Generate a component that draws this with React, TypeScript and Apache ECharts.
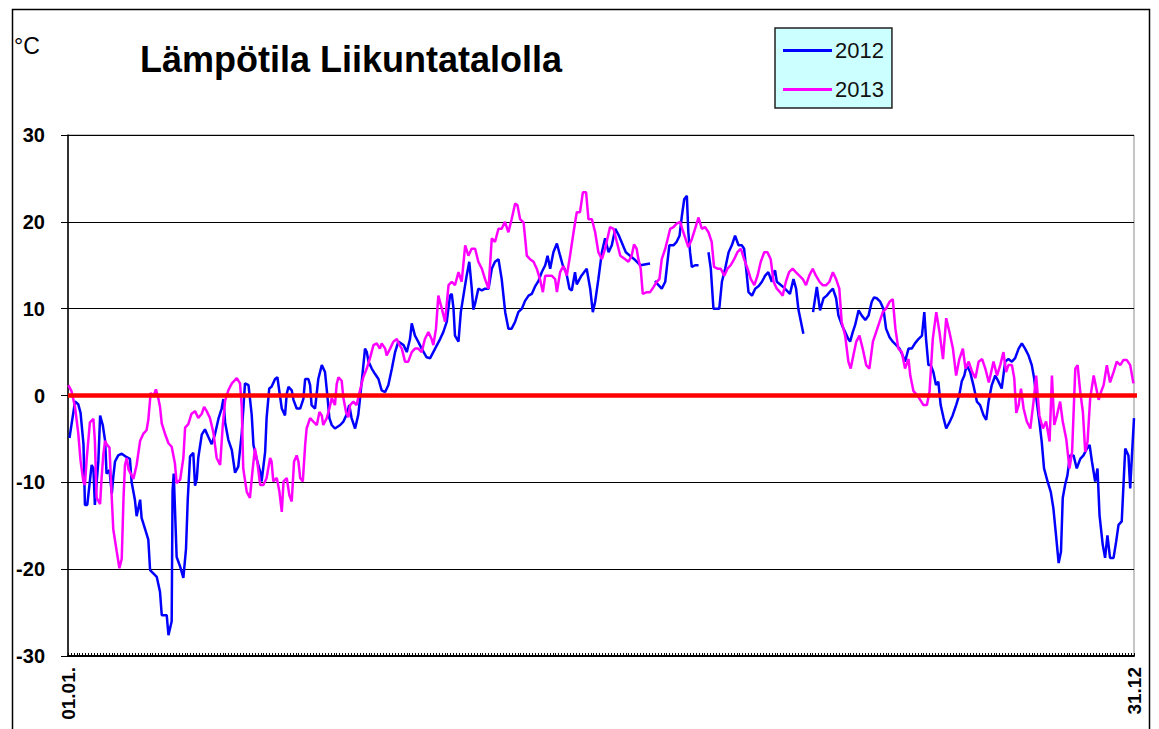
import React, { useEffect, useRef } from "react";
import * as echarts from "echarts";

// ---- data (day index from 01.01. = 0) ----
const days2012 = [
  0.5, 2.4, 3.5, 4.3, 5.3, 5.8, 6.6, 8.1, 8.7, 9.2, 10.4, 11.0, 11.9, 12.7, 13.2, 14.2, 15.0, 15.5, 16.1, 17.2,
  18.4, 20.1, 21.2, 21.8, 22.9, 23.5, 24.7, 25.2, 26.4, 27.5, 28.1, 30.4, 31.5, 32.1, 33.8, 34.4, 35.5, 35.8, 36.2, 36.6,
  37.2, 38.4, 39.5, 40.4, 41.0, 41.8, 42.9, 43.5, 44.1, 44.6, 45.8, 46.9, 48.1, 49.2, 50.3, 51.5, 52.6, 53.2, 53.8, 54.9,
  56.1, 57.2, 58.3, 59.5, 60.6, 61.8, 62.9, 63.5, 64.6, 65.8, 66.3, 67.5, 68.0, 68.9, 69.7, 70.9, 71.7, 72.4, 73.2, 74.3,
  74.9, 75.5, 76.6, 77.2, 78.3, 79.5, 80.6, 81.2, 82.3, 82.9, 83.4, 84.6, 85.7, 86.9, 88.0, 88.8, 89.5, 90.3, 91.4, 93.2,
  94.3, 95.4, 96.3, 97.1, 98.3, 99.4, 100.0, 100.9, 101.7, 102.3, 102.9, 104.0, 105.1, 106.3, 107.4, 108.6, 109.7, 110.9, 112.0, 113.1,
  114.9, 116.0, 117.1, 117.7, 118.8, 119.9, 121.1, 122.8, 124.0, 125.7, 127.4, 128.5, 129.7, 130.8, 131.4, 132.0, 132.5, 133.7, 134.5, 135.4,
  136.5, 137.4, 138.2, 138.8, 139.4, 140.5, 141.7, 142.8, 144.0, 145.1, 146.2, 147.4, 148.5, 149.7, 150.8, 151.9, 153.1, 154.2, 155.4, 156.5,
  157.7, 158.8, 160.0, 161.1, 162.2, 163.4, 164.2, 165.1, 166.2, 167.4, 168.5, 169.4, 170.6, 171.7, 172.5, 173.6, 174.2, 175.8, 177.6, 178.8,
  179.7, 180.5, 181.6, 182.8, 183.9, 185.1, 186.2, 187.4, 188.5, 191.0, 194.2, 196.0, 199.3, 200.2, 201.0, 202.2, 203.3, 204.5, 205.0, 205.9,
  207.3, 208.4, 209.4, 210.2, 211.0, 211.9, 212.4, 213.0, 213.6, 214.7, 215.9, 217.0, 219.3, 220.1, 221.0, 222.1, 223.0, 223.9, 225.0, 226.2,
  227.3, 228.4, 229.6, 230.7, 231.5, 232.2, 233.0, 234.2, 235.3, 236.5, 237.6, 238.7, 239.8, 241.0, 241.6, 242.1, 242.7, 244.9, 247.2, 248.4,
  249.3, 250.1, 251.8, 253.0, 255.1, 256.4, 257.5, 258.7, 259.8, 261.0, 261.9, 263.0, 263.8, 265.0, 266.1, 267.2, 267.8, 268.7, 269.5, 270.7,
  271.8, 273.0, 274.1, 275.2, 276.0, 276.9, 278.1, 279.2, 280.1, 281.3, 282.4, 283.6, 284.7, 285.8, 286.6, 287.8, 288.9, 290.0, 291.2, 292.4,
  293.2, 293.8, 294.6, 295.4, 296.3, 297.2, 298.0, 298.8, 299.8, 300.7, 301.8, 302.9, 304.1, 305.2, 306.0, 306.9, 307.7, 308.9, 310.0, 311.2,
  312.3, 313.5, 314.4, 315.2, 316.3, 317.5, 318.6, 319.7, 320.9, 322.0, 323.2, 324.3, 325.5, 326.6, 327.7, 328.9, 330.0, 330.8, 331.7, 332.6,
  333.4, 334.2, 335.4, 336.5, 337.4, 338.3, 339.2, 340.0, 340.6, 341.4, 342.2, 343.1, 344.3, 345.4, 346.6, 347.7, 348.9, 349.8, 350.6, 351.7,
  352.5, 353.2, 354.3, 355.1, 355.9, 356.8, 358.0, 358.9, 359.7, 360.8, 362.0, 363.1, 363.7, 364.3, 365.0,
];
const temps2012 = [
  -4.9, -0.7, -1.0, -2.0, -5.6, -12.6, -12.6, -8.0, -8.4, -12.6, -7.5, -2.3, -3.4, -5.2, -9.0, -8.6, -11.3, -9.4, -7.6, -6.9,
  -6.7, -7.1, -7.3, -10.0, -12.0, -13.9, -12.0, -14.1, -15.4, -16.6, -20.1, -20.9, -22.6, -25.3, -25.3, -27.6, -26.0, -11.0, -9.0, -12.8,
  -18.6, -19.7, -21.0, -17.7, -12.0, -7.0, -6.6, -10.4, -9.6, -7.2, -4.5, -3.9, -4.8, -5.6, -4.5, -2.7, -1.5, -0.4, -3.1, -5.1,
  -6.3, -8.9, -8.2, -4.3, 1.4, 1.2, -2.2, -5.7, -7.3, -8.8, -9.9, -6.5, -2.6, 0.8, 1.0, 1.9, 2.1, 0.4, -1.5, -2.3,
  0.2, 1.0, 0.6, -0.5, -1.5, -1.5, -0.4, 1.9, 1.9, 1.2, -1.1, -1.5, 1.9, 3.5, 2.7, 0.0, -2.6, -3.4, -3.8, -3.4,
  -3.0, -2.2, -1.1, -2.6, -3.8, -2.2, -0.3, 2.7, 5.4, 5.0, 3.9, 3.1, 2.5, 1.9, 0.6, 0.4, 1.2, 3.1, 5.0, 6.2,
  5.8, 5.0, 6.5, 8.3, 6.9, 6.2, 5.4, 4.4, 4.3, 5.4, 6.5, 7.3, 8.5, 11.5, 11.7, 10.0, 6.9, 6.2, 9.6, 11.5,
  13.8, 15.4, 12.5, 9.9, 10.6, 12.3, 12.1, 12.3, 12.3, 14.6, 15.4, 15.7, 13.4, 9.6, 7.7, 7.7, 8.5, 9.6, 10.0, 10.9,
  11.5, 11.7, 12.6, 13.2, 14.2, 15.0, 16.1, 14.6, 16.5, 17.5, 16.1, 15.0, 14.2, 12.3, 12.1, 14.2, 12.8, 13.8, 14.6, 12.3,
  9.6, 10.8, 13.4, 16.5, 18.1, 16.5, 17.3, 19.2, 18.5, 16.5, 15.6, 15.0, 15.2, null, 13.2, 12.7, 12.3, 13.1, 14.6, 17.3,
  17.3, 17.7, 18.4, 20.7, 22.6, 23.0, 18.8, 16.5, 14.8, 15.0, 15.0, null, 16.5, 14.6, 10.0, 10.0, 10.0, 13.1, 14.6, 16.5,
  17.3, 18.4, 17.3, 17.3, 16.9, 14.6, 11.9, 11.5, 12.3, 12.6, 13.1, 13.8, 14.2, 13.1, 14.2, 14.4, 13.1, 12.5, 11.7, 13.4,
  12.3, 9.9, 7.1, null, 9.6, 12.5, 9.8, 11.2, 11.5, 12.0, 12.3, 11.2, 9.2, 8.1, 7.3, 6.5, 6.2, 7.3, 8.1, 9.8,
  9.2, 8.7, 9.2, 10.8, 11.3, 11.2, 10.8, 10.0, 7.7, 6.7, 6.2, 5.8, 5.4, 4.6, 3.9, 5.4, 5.4, 6.0, 6.5, 6.9,
  9.6, 6.5, 3.5, 3.5, 2.7, 1.2, 1.6, -1.1, -2.6, -3.8, -3.1, -2.3, -1.1, 0.1, 1.6, 2.3, 3.5, 2.7, 1.2, -0.7,
  -1.1, -2.3, -2.8, -0.7, 1.2, 2.3, 1.6, 0.8, 3.9, 4.2, 3.9, 4.3, 5.4, 6.0, 5.4, 4.6, 3.5, 2.0, -0.7, -3.0,
  -5.3, -8.4, -9.9, -11.1, -13.0, -16.1, -19.3, -18.0, -11.8, -10.3, -9.2, -6.9, -6.9, -8.4, -7.3, -6.9, -6.1, -5.7, -7.6, -9.9,
  -8.4, -13.8, -17.2, -18.7, -16.1, -18.7, -18.7, -16.8, -14.9, -14.5, -6.1, -6.9, -10.7, -6.9, -2.6,
];

const days2013 = [
  0.1, 1.2, 2.4, 3.5, 4.3, 5.3, 5.8, 6.4, 7.5, 8.7, 9.2, 9.8, 11.0, 11.5, 12.1, 12.7, 13.2, 14.2, 15.0, 15.5,
  16.7, 17.6, 18.4, 19.0, 19.5, 20.1, 20.7, 21.8, 22.4, 23.5, 24.7, 25.8, 26.9, 27.5, 28.3, 29.2, 30.1, 30.9, 31.5, 32.1,
  33.2, 34.4, 35.5, 36.6, 37.2, 38.4, 39.5, 40.1, 41.2, 42.3, 43.5, 44.6, 45.8, 46.6, 47.5, 48.6, 49.8, 50.9, 52.1, 53.0,
  53.8, 54.9, 56.1, 57.8, 58.9, 59.5, 60.0, 61.2, 62.3, 63.2, 64.0, 64.8, 65.8, 66.9, 68.0, 69.2, 69.7, 70.3, 71.5, 72.4,
  73.2, 73.8, 74.9, 75.8, 76.6, 77.4, 78.3, 78.9, 79.5, 80.4, 81.2, 81.7, 82.9, 84.0, 85.2, 86.1, 86.9, 87.4, 88.6, 89.5,
  90.3, 91.4, 92.0, 92.6, 93.7, 94.3, 95.2, 96.0, 96.6, 97.7, 98.8, 100.0, 101.1, 102.3, 103.4, 104.6, 105.7, 106.8, 107.4, 108.6,
  109.1, 110.3, 111.4, 112.6, 113.5, 114.3, 115.4, 116.5, 117.7, 118.8, 119.9, 121.1, 122.2, 123.4, 124.5, 125.1, 126.0, 126.8, 128.0, 129.1,
  130.3, 131.4, 132.5, 133.7, 134.8, 136.0, 137.1, 138.2, 139.4, 140.5, 141.7, 142.8, 144.0, 145.1, 146.2, 147.4, 148.5, 149.6, 150.8, 151.9,
  153.1, 153.9, 154.8, 156.0, 157.1, 158.2, 159.4, 160.5, 161.6, 162.6, 163.4, 164.5, 165.6, 166.8, 167.4, 168.5, 169.6, 170.8, 171.9, 173.1,
  174.2, 175.3, 176.3, 177.4, 178.2, 179.4, 180.5, 181.6, 182.8, 183.9, 185.6, 186.8, 187.9, 189.1, 190.8, 191.9, 193.0, 193.8, 194.7, 195.3,
  196.1, 196.8, 198.2, 199.3, 200.5, 201.6, 202.5, 203.3, 204.5, 205.6, 206.2, 207.3, 208.4, 209.6, 210.7, 211.6, 212.4, 213.6, 214.7, 215.9,
  217.0, 218.1, 219.3, 220.4, 221.2, 222.4, 223.5, 224.7, 225.8, 226.9, 228.1, 229.2, 230.4, 231.5, 232.7, 233.8, 235.0, 236.1, 237.2, 238.4,
  239.5, 240.6, 241.6, 242.7, 243.8, 244.7, 245.8, 246.9, 248.1, 249.2, 250.4, 251.6, 252.7, 253.8, 255.0, 256.1, 257.3, 258.4, 259.6, 260.7,
  261.9, 263.0, 264.1, 264.9, 266.1, 267.2, 268.0, 268.9, 269.9, 271.0, 272.1, 273.3, 274.4, 275.6, 276.7, 277.9, 279.0, 280.1, 281.3, 282.4,
  283.3, 284.3, 285.5, 286.6, 287.8, 288.4, 289.5, 290.6, 291.8, 292.9, 294.1, 295.0, 296.1, 297.3, 298.4, 299.6, 300.7, 301.8, 303.0, 304.1,
  305.2, 306.4, 307.3, 308.4, 309.6, 310.7, 311.8, 313.0, 314.1, 315.3, 316.9, 318.1, 319.2, 320.3, 321.2, 322.0, 323.2, 324.0, 324.7, 325.5,
  326.3, 327.2, 328.3, 329.5, 330.6, 331.5, 332.6, 333.8, 334.9, 336.1, 336.9, 337.7, 338.6, 339.7, 340.6, 341.8, 342.9, 343.8, 344.9, 345.7,
  346.6, 347.5, 348.3, 349.1, 350.0, 351.2, 352.1, 352.9, 353.7, 354.6, 355.7, 356.8, 358.0, 359.1, 360.3, 361.4, 362.5, 363.7, 364.8,
];
const temps2013 = [
  1.2, 0.5, -1.3, -4.3, -7.5, -10.0, -10.3, -7.3, -3.1, -2.7, -5.2, -11.8, -12.5, -9.5, -6.8, -5.2, -5.6, -6.0, -11.9, -15.4,
  -18.0, -19.9, -18.8, -11.9, -8.0, -7.2, -8.5, -9.2, -9.6, -8.0, -5.2, -4.4, -4.0, -2.8, 0.3, -0.1, 0.7, -0.3, -1.3, -3.2,
  -4.4, -5.5, -5.9, -7.8, -10.1, -9.7, -7.2, -3.7, -3.3, -2.1, -1.8, -2.6, -2.1, -1.3, -1.8, -2.6, -4.3, -7.2, -8.0, -3.4,
  -0.6, 0.6, 1.4, 2.0, 1.4, -1.3, -8.4, -11.1, -11.8, -8.6, -6.1, -7.6, -10.3, -10.3, -9.5, -7.2, -7.6, -9.9, -9.5, -11.1,
  -13.4, -9.9, -9.5, -11.5, -12.2, -7.6, -6.9, -7.6, -9.5, -9.9, -5.7, -3.8, -2.6, -3.0, -3.4, -1.9, -2.3, -3.4, -2.6, -1.5,
  -0.3, -1.1, 1.3, 2.1, 1.7, -0.3, -1.9, -2.5, -1.1, -0.7, -1.1, 0.6, 2.1, 3.1, 4.3, 5.8, 6.0, 5.4, 6.0, 5.4,
  4.6, 5.4, 6.2, 6.5, 5.8, 5.4, 3.9, 3.9, 5.0, 5.4, 5.4, 5.0, 6.5, 7.3, 6.5, 5.8, 7.7, 11.5, 10.0, 8.5,
  12.7, 13.1, 12.7, 14.2, 13.1, 17.3, 16.1, 16.9, 16.9, 15.4, 14.6, 13.4, 12.3, 18.1, 17.7, 19.2, 19.2, 20.0, 18.8, 20.3,
  22.1, 21.9, 20.3, 19.9, 16.1, 15.7, 15.4, 14.6, 13.4, 11.9, 13.8, 13.8, 13.8, 13.4, 11.9, 14.2, 14.9, 13.8, 16.1, 18.8,
  21.1, 21.1, 23.4, 23.4, 20.3, 20.3, 18.8, 16.5, 15.7, 16.9, 19.4, 19.2, 17.7, 16.1, 15.7, 15.4, 16.1, 17.4, 16.9, 15.7,
  14.6, 11.7, 11.9, 11.9, 12.5, 13.1, 13.4, 15.7, 16.9, 18.4, 19.2, 19.4, 19.8, 20.0, 18.8, 17.9, 17.1, 18.0, 19.2, 20.5,
  19.2, 19.4, 18.8, 17.7, 14.8, 14.6, 14.6, 13.8, 14.6, 15.0, 15.7, 16.5, 16.9, 15.7, 14.6, 13.4, 12.7, 13.8, 15.4, 16.5,
  16.5, 15.7, 13.1, 12.3, 11.9, 11.5, 13.1, 14.2, 14.6, 14.2, 13.8, 13.4, 12.7, 13.8, 14.6, 13.8, 13.1, 12.7, 12.7, 13.1,
  14.2, 13.4, 12.3, 8.5, 6.9, 3.9, 3.1, 4.6, 6.2, 6.9, 5.4, 3.5, 3.1, 6.2, 7.3, 8.5, 9.6, 10.0, 10.8, 11.1,
  7.7, 5.4, 5.0, 3.1, 4.2, 2.3, 0.5, 0.1, -0.5, -1.1, -1.1, 0.5, 6.5, 9.6, 7.3, 4.2, 8.9, 7.3, 5.4, 2.3,
  4.2, 5.4, 3.1, 3.9, 2.7, 2.0, 3.9, 4.2, 3.1, 1.5, 3.9, 2.3, 3.5, 5.0, 2.7, 3.5, 3.5, 2.0, -2.0, -1.1,
  0.8, -1.5, -3.0, -3.8, -0.7, 2.3, -2.3, -3.8, -3.0, -5.3, 2.3, -3.4, -2.3, -0.7, -3.0, -5.0, -8.4, -6.5, 3.1, 3.5,
  0.4, -1.9, -6.5, -5.3, -0.3, 2.3, 0.8, -0.5, 0.4, 1.2, 3.5, 1.5, 2.7, 3.9, 3.5, 4.1, 4.1, 3.5, 1.4,
];

const seriesNames = ["2012", "2013"];
const yTicks = [-30, -20, -10, 0, 10, 20, 30];
const xLabelFirst = "01.01.";
const xLabelLast = "31.12";

const zip = (d: number[], t: (number | null)[]) =>
  d.map((x, i) => [x, t[i] === null ? "-" : t[i]]);

export default function App() {
  const ref = useRef<HTMLDivElement>(null);
  useEffect(() => {
    if (!ref.current) return;
    const chart = echarts.init(ref.current, null, { renderer: "svg" });
    const font = "Arial, 'Liberation Sans', sans-serif";
    chart.setOption({
      animation: false,
      backgroundColor: "#fff",
      grid: {
        left: 68,
        right: 25,
        top: 135,
        bottom: 73,
        show: true,
        borderColor: "#8c8c8c",
        borderWidth: 1,
      },
      legend: {
        data: seriesNames,
        orient: "vertical",
        left: 775,
        top: 28,
        backgroundColor: "#ccffff",
        borderColor: "#222",
        borderWidth: 1.5,
        borderRadius: 0,
        padding: [11, 8, 7, 8],
        itemGap: 16,
        itemWidth: 49,
        itemHeight: 3,
        icon: "rect",
        textStyle: {
          fontFamily: font,
          fontSize: 22,
          color: "#111",
          padding: [0, 0, 0, -2],
          lineHeight: 23,
        },
      },
      xAxis: {
        type: "value",
        min: 0,
        max: 365,
        interval: 1,
        axisLine: { show: true, onZero: false, lineStyle: { color: "#000", width: 2 } },
        axisTick: { show: true, inside: true, length: 3, lineStyle: { color: "#000", width: 1 } },
        splitLine: { show: false },
        axisLabel: {
          rotate: 90,
          margin: 11,
          fontFamily: font,
          fontWeight: "bold",
          fontSize: 19,
          color: "#000",
          showMinLabel: true,
          showMaxLabel: true,
          formatter: (v: number) => (v === 0 ? xLabelFirst : v === 365 ? xLabelLast : ""),
        },
      },
      yAxis: {
        type: "value",
        min: yTicks[0],
        max: yTicks[yTicks.length - 1],
        interval: 10,
        axisLine: { show: true, lineStyle: { color: "#000", width: 1.5 } },
        axisTick: { show: true, length: 7, lineStyle: { color: "#000" } },
        splitLine: { show: true, lineStyle: { color: "#000", width: 1 } },
        axisLabel: {
          margin: 23,
          fontFamily: font,
          fontWeight: "bold",
          fontSize: 20,
          color: "#000",
        },
      },
      graphic: [
        {
          type: "rect",
          shape: { x: 12.5, y: 9.5, width: 1137, height: 760 },
          style: { fill: "none", stroke: "#000", lineWidth: 1.5 },
          silent: true,
        },
        {
          type: "text",
          left: 14,
          top: 34,
          style: { text: "°C", fontFamily: font, fontSize: 23, fill: "#000" },
        },
        {
          type: "text",
          left: 140,
          top: 41,
          style: {
            text: "Lämpötila Liikuntatalolla",
            fontFamily: font,
            fontWeight: "bold",
            fontSize: 36,
            fill: "#000",
          },
        },
      ],
      series: [
        {
          name: seriesNames[0],
          type: "line",
          data: zip(days2012, temps2012),
          showSymbol: false,
          connectNulls: false,
          lineStyle: { color: "#0000ff", width: 2.5 },
          itemStyle: { color: "#0000ff" },
        },
        {
          name: seriesNames[1],
          type: "line",
          data: zip(days2013, temps2013),
          showSymbol: false,
          connectNulls: false,
          lineStyle: { color: "#ff00ff", width: 2.5 },
          itemStyle: { color: "#ff00ff" },
        },
        {
          name: "zero",
          type: "line",
          data: [
            [0, 0],
            [367, 0],
          ],
          clip: false,
          showSymbol: false,
          silent: true,
          lineStyle: { color: "#ff0000", width: 4.5 },
          z: 5,
        },
      ],
    });
    return () => chart.dispose();
  }, []);
  return (
    <div
      ref={ref}
      style={{ position: "fixed", left: 0, top: 0, width: 1159, height: 729, background: "#fff" }}
    />
  );
}
